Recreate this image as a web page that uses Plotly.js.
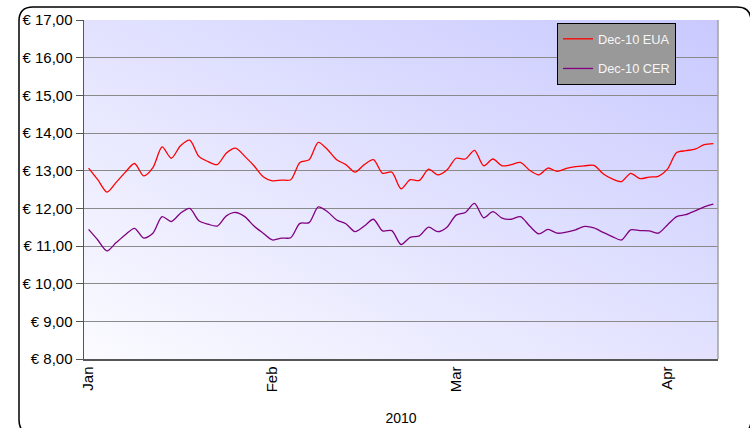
<!DOCTYPE html>
<html>
<head>
<meta charset="utf-8">
<script src="https://cdn.plot.ly/plotly-3.0.1.min.js"></script>
<style>
  html, body { margin: 0; padding: 0; background: #ffffff; }
  #chart { width: 750px; height: 428px; }
</style>
</head>
<body>
<div id="chart"></div>
<script>
// Trading days, January to mid-April 2010
const tradingDays = [
  '2010-01-04','2010-01-05','2010-01-06','2010-01-07','2010-01-08',
  '2010-01-11','2010-01-12','2010-01-13','2010-01-14','2010-01-15',
  '2010-01-18','2010-01-19','2010-01-20','2010-01-21','2010-01-22',
  '2010-01-25','2010-01-26','2010-01-27','2010-01-28','2010-01-29',
  '2010-02-01','2010-02-02','2010-02-03','2010-02-04','2010-02-05',
  '2010-02-08','2010-02-09','2010-02-10','2010-02-11','2010-02-12',
  '2010-02-15','2010-02-16','2010-02-17','2010-02-18','2010-02-19',
  '2010-02-22','2010-02-23','2010-02-24','2010-02-25','2010-02-26',
  '2010-03-01','2010-03-02','2010-03-03','2010-03-04','2010-03-05',
  '2010-03-08','2010-03-09','2010-03-10','2010-03-11','2010-03-12',
  '2010-03-15','2010-03-16','2010-03-17','2010-03-18','2010-03-19',
  '2010-03-22','2010-03-23','2010-03-24','2010-03-25','2010-03-26',
  '2010-03-29','2010-03-30','2010-03-31','2010-04-01','2010-04-06',
  '2010-04-07','2010-04-08','2010-04-09','2010-04-12'
];

// Dec-10 EUA settlement prices (EUR)
const euaDec10 = [
  13.07, 12.76, 12.43, 12.69, 12.96, 13.19, 12.86, 13.08, 13.63, 13.33,
  13.66, 13.81, 13.38, 13.24, 13.16, 13.47, 13.60, 13.38, 13.13, 12.84,
  12.73, 12.75, 12.76, 13.22, 13.29, 13.75, 13.56, 13.29, 13.16, 12.96,
  13.16, 13.29, 12.93, 12.96, 12.52, 12.76, 12.74, 13.04, 12.89, 13.02,
  13.33, 13.31, 13.54, 13.13, 13.31, 13.13, 13.16, 13.22, 13.01, 12.89,
  13.07, 12.98, 13.06, 13.11, 13.13, 13.14, 12.92, 12.78, 12.71, 12.93,
  12.79, 12.83, 12.85, 13.04, 13.48, 13.53, 13.57, 13.69, 13.72
];

// Dec-10 CER settlement prices (EUR)
const cerDec10 = [
  11.44, 11.16, 10.87, 11.09, 11.30, 11.47, 11.21, 11.34, 11.78, 11.65,
  11.87, 12.00, 11.67, 11.58, 11.53, 11.80, 11.89, 11.78, 11.53, 11.34,
  11.16, 11.21, 11.22, 11.60, 11.62, 12.04, 11.91, 11.69, 11.59, 11.38,
  11.53, 11.71, 11.40, 11.41, 11.04, 11.23, 11.27, 11.50, 11.38, 11.50,
  11.82, 11.89, 12.13, 11.75, 11.91, 11.74, 11.71, 11.78, 11.53, 11.32,
  11.44, 11.34, 11.37, 11.43, 11.52, 11.48, 11.36, 11.25, 11.16, 11.43,
  11.41, 11.40, 11.34, 11.56, 11.78, 11.83, 11.93, 12.04, 12.11
];

// Month labels on the category axis
const monthTickDays = ['2010-01-04', '2010-02-01', '2010-03-01', '2010-04-01'];
const monthTickText = ['Jan', 'Feb', 'Mar', 'Apr'];
const seriesNames = ['Dec-10 EUA', 'Dec-10 CER'];
const yearLabel = '2010';

const W = 750, H = 428;
const M = { l: 84, r: 32, t: 20, b: 69 };
const plotW = W - M.l - M.r, plotH = H - M.t - M.b;
// pixel -> paper helpers for the decorative frame
const px = x => (x - M.l) / plotW;
const py = y => (H - M.b - y) / plotH;

function roundedFrame(x0, y0, x1, y1, r) {
  const f = v => v.toFixed(5);
  return [
    'M', f(px(x0 + r)), f(py(y0)),
    'L', f(px(x1 - r)), f(py(y0)),
    'Q', f(px(x1)), f(py(y0)), f(px(x1)), f(py(y0 + r)),
    'L', f(px(x1)), f(py(y1 - r)),
    'Q', f(px(x1)), f(py(y1)), f(px(x1 - r)), f(py(y1)),
    'L', f(px(x0 + r)), f(py(y1)),
    'Q', f(px(x0)), f(py(y1)), f(px(x0)), f(py(y1 - r)),
    'L', f(px(x0)), f(py(y0 + r)),
    'Q', f(px(x0)), f(py(y0)), f(px(x0 + r)), f(py(y0)),
    'Z'
  ].join(' ');
}

// Diagonal lavender wash behind the plot area
const gradSvg =
  "<svg xmlns='http://www.w3.org/2000/svg' width='200' height='100' viewBox='0 0 200 100' preserveAspectRatio='none'>" +
  "<defs><linearGradient id='g' x1='0' y1='1' x2='1' y2='0'>" +
  "<stop offset='0' stop-color='#fbfbff'/><stop offset='1' stop-color='#c9c9ff'/>" +
  "</linearGradient></defs><rect width='200' height='100' fill='url(#g)'/></svg>";
const gradUri = 'data:image/svg+xml;charset=utf-8,' + encodeURIComponent(gradSvg);

const font = 'Liberation Sans, Arial, sans-serif';

const traces = [
  {
    x: tradingDays, y: euaDec10, name: seriesNames[0], type: 'scatter', mode: 'lines',
    line: { color: '#ff0000', width: 1.3, shape: 'spline', smoothing: 0.8 },
    legendgroup: 'a', hoverinfo: 'x+y'
  },
  {
    x: tradingDays, y: cerDec10, name: seriesNames[1], type: 'scatter', mode: 'lines',
    line: { color: '#800080', width: 1.3, shape: 'spline', smoothing: 0.8 },
    legendgroup: 'b', hoverinfo: 'x+y'
  }
];

const layout = {
  width: W, height: H,
  margin: M,
  paper_bgcolor: '#ffffff',
  plot_bgcolor: 'rgba(0,0,0,0)',
  separators: ',.',
  font: { family: font, color: '#000000', size: 14 },
  showlegend: true,
  legend: {
    x: px(557), y: py(23), xanchor: 'left', yanchor: 'top',
    bgcolor: '#999999', bordercolor: '#000000', borderwidth: 1,
    font: { family: font, size: 12.8, color: '#f6f6f6' },
    traceorder: 'grouped', tracegroupgap: 10, itemwidth: 30
  },
  xaxis: {
    type: 'category',
    range: [-0.5, tradingDays.length - 0.5],
    tickmode: 'array', tickvals: monthTickDays, ticktext: monthTickText,
    tickangle: -90, ticks: '', showgrid: false, zeroline: false,
    showline: true, linecolor: '#555555', linewidth: 1.5,
    tickfont: { family: font, size: 15, color: '#000000' },
    title: { text: yearLabel, font: { family: font, size: 14, color: '#000000' }, standoff: 22 },
    automargin: false
  },
  yaxis: {
    range: [8, 17], dtick: 1, tick0: 8,
    tickformat: '.2f', tickprefix: '€ ',
    ticks: 'outside', ticklen: 7, tickcolor: '#555555', tickwidth: 1,
    showgrid: true, gridcolor: '#8a8a8a', gridwidth: 1,
    zeroline: false, showline: true, linecolor: '#555555', linewidth: 1.5,
    tickfont: { family: font, size: 15, color: '#000000' },
    automargin: false
  },
  images: [{
    source: gradUri, xref: 'paper', yref: 'paper',
    x: 0, y: 1, sizex: 1, sizey: 1, xanchor: 'left', yanchor: 'top',
    sizing: 'stretch', layer: 'below'
  }],
  shapes: [
    {
      type: 'line', xref: 'paper', yref: 'paper', x0: 1, x1: 1, y0: 0, y1: 1,
      line: { color: '#a0a0a0', width: 1.5 }, layer: 'above'
    },
    {
      type: 'path', xref: 'paper', yref: 'paper',
      path: roundedFrame(19, 7, 751, 434, 14),
      line: { color: '#000000', width: 1.5 }, fillcolor: 'rgba(0,0,0,0)', layer: 'above'
    }
  ]
};

Plotly.newPlot('chart', traces, layout, { displayModeBar: false, staticPlot: true });
</script>
</body>
</html>
